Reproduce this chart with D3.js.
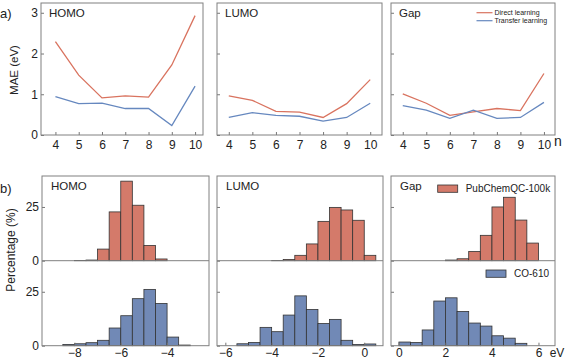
<!DOCTYPE html>
<html>
<head>
<meta charset="utf-8">
<script src="https://cdn.jsdelivr.net/npm/d3@7"></script>
<style>
  body { margin: 0; background: #fff; }
  svg text { font-family: "Liberation Sans", Arial, sans-serif; fill: #222; }
  .tick line { stroke: #777; }
</style>
</head>
<body>
<div id="wrapper"></div>
<script>
// a) MAE vs n
const nValues = [4, 5, 6, 7, 8, 9, 10]
const homoDirect = [2.29, 1.47, 0.91, 0.96, 0.93, 1.72, 2.93]
const homoTransfer = [0.94, 0.77, 0.78, 0.65, 0.65, 0.23, 1.20]
const lumoDirect = [0.96, 0.85, 0.58, 0.56, 0.43, 0.77, 1.36]
const lumoTransfer = [0.43, 0.55, 0.48, 0.46, 0.34, 0.43, 0.78]
const gapDirect = [1.01, 0.78, 0.48, 0.57, 0.65, 0.60, 1.51]
const gapTransfer = [0.72, 0.61, 0.41, 0.61, 0.41, 0.43, 0.80]
const maeTicks = [0, 1, 2, 3]

// b) histograms, bin lower edges (width 0.5) and percentages
const binWidth = 0.5
const homoBinsPub = [-8, -7.5, -7, -6.5, -6, -5.5, -5, -4.5]
const homoPctPub = [0.1, 0.3, 5.4, 22.7, 37.0, 25.8, 7.1, 0.8]
const homoBinsCO = [-8.5, -8, -7.5, -7, -6.5, -6, -5.5, -5, -4.5, -4, -3.5]
const homoPctCO = [0.6, 0.9, 1.4, 2.5, 8.2, 13.9, 21.8, 26.1, 19.6, 4.0, 0.3]
const lumoBinsPub = [-4, -3.5, -3, -2.5, -2, -1.5, -1, -0.5, 0]
const lumoPctPub = [0.1, 0.6, 2.5, 7.8, 18.3, 24.8, 23.6, 18.8, 2.5]
const lumoBinsCO = [-5.5, -5, -4.5, -4, -3.5, -3, -2.5, -2, -1.5, -1, -0.5, 0]
const lumoPctCO = [0.9, 1.5, 8.5, 6.5, 14.2, 23.1, 16.8, 10.3, 12.2, 2.5, 0.6, 0.8]
const gapBinsPub = [2, 2.5, 3, 3.5, 4, 4.5, 5, 5.5]
const gapPctPub = [0.3, 0.9, 4.3, 11.8, 25.0, 29.5, 18.9, 8.2]
const gapBinsCO = [0, 0.5, 1, 1.5, 2, 2.5, 3, 3.5, 4, 4.5, 5]
const gapPctCO = [1.7, 1.5, 7.3, 20.7, 22.2, 15.9, 10.5, 9.1, 4.6, 3.5, 1.1]
const pctTicks = [0, 25]

const redLine = "#d9735f"
const blueLine = "#6688bf"
const redBar = "#d47a6a"
const blueBar = "#7189b6"
const frameColor = "#808080"

const width = 567
const height = 361

const svg = d3.select("#wrapper")
  .append("svg")
    .attr("width", width)
    .attr("height", height)

// ---------- top row ----------
const topY = d3.scaleLinear().domain([0, 3.24]).range([135, 3])

const topPanels = [
  { title: "HOMO", left: 41, right: 203, dom: [3.38, 10.34], direct: homoDirect, transfer: homoTransfer, labels: true },
  { title: "LUMO", left: 217, right: 382, dom: [3.5, 10.5], direct: lumoDirect, transfer: lumoTransfer, labels: false },
  { title: "Gap", left: 391, right: 555, dom: [3.5, 10.47], direct: gapDirect, transfer: gapTransfer, labels: false }
]

topPanels.forEach(p => {
  const xScale = d3.scaleLinear().domain(p.dom).range([p.left, p.right])
  const g = svg.append("g")

  g.append("g")
    .attr("transform", "translate(0,135)")
    .call(d3.axisBottom(xScale).tickValues(nValues).tickFormat(d3.format("d"))
      .tickSizeInner(-3).tickSizeOuter(0).tickPadding(5))
    .call(a => a.select(".domain").remove())
    .selectAll("text").style("font-size", "12px")

  const yAxis = d3.axisLeft(topY).tickValues(maeTicks).tickFormat(d3.format("d"))
    .tickSizeInner(-3).tickSizeOuter(0).tickPadding(3)
  if (!p.labels) yAxis.tickFormat("")
  g.append("g")
    .attr("transform", `translate(${p.left},0)`)
    .call(yAxis)
    .call(a => a.select(".domain").remove())
    .selectAll("text").style("font-size", "12px")

  const line = d3.line()
    .x((d, i) => xScale(nValues[i]))
    .y(d => topY(d))

  g.append("path").datum(p.direct)
    .attr("d", line).attr("fill", "none")
    .attr("stroke", redLine).attr("stroke-width", 1.3)
  g.append("path").datum(p.transfer)
    .attr("d", line).attr("fill", "none")
    .attr("stroke", blueLine).attr("stroke-width", 1.3)

  g.append("rect")
    .attr("x", p.left).attr("y", 3)
    .attr("width", p.right - p.left).attr("height", 132)
    .attr("fill", "none").attr("stroke", frameColor)

  g.append("text")
    .attr("x", p.left + 8).attr("y", 17)
    .style("font-size", "11.5px")
    .text(p.title)
})

// legend top
const lg = svg.append("g")
;[["Direct learning", redLine, 12.7], ["Transfer learning", blueLine, 20.7]].forEach(([t, c, y]) => {
  lg.append("line").attr("x1", 476.5).attr("x2", 492.5).attr("y1", y).attr("y2", y)
    .attr("stroke", c).attr("stroke-width", 1.2)
  lg.append("text").attr("x", 494.5).attr("y", y).attr("dy", "0.35em")
    .style("font-size", "7px").text(t)
})

svg.append("text")
  .attr("x", 554).attr("y", 146)
  .style("font-size", "14px")
  .text("n")

svg.append("text")
  .attr("transform", "translate(18,70) rotate(-90)")
  .attr("text-anchor", "middle")
  .style("font-size", "11.5px")
  .text("MAE (eV)")

svg.append("text")
  .attr("x", 0).attr("y", 18)
  .style("font-size", "13px")
  .text("a)")

// ---------- bottom row ----------
const upperY = d3.scaleLinear().domain([0, 39.4]).range([260.7, 176])
const lowerY = d3.scaleLinear().domain([0, 39.4]).range([345.7, 260.7])

const bottomPanels = [
  { title: "HOMO", left: 42, right: 209, dom: [-9.4, -2.19], ticks: [-8, -6, -4],
    pubBins: homoBinsPub, pubPct: homoPctPub, coBins: homoBinsCO, coPct: homoPctCO, labels: true },
  { title: "LUMO", left: 217, right: 383, dom: [-6.36, 0.81], ticks: [-6, -4, -2, 0],
    pubBins: lumoBinsPub, pubPct: lumoPctPub, coBins: lumoBinsCO, coPct: lumoPctCO, labels: false },
  { title: "Gap", left: 391, right: 555, dom: [-0.34, 6.71], ticks: [0, 2, 4, 6],
    pubBins: gapBinsPub, pubPct: gapPctPub, coBins: gapBinsCO, coPct: gapPctCO, labels: false }
]

bottomPanels.forEach(p => {
  const xScale = d3.scaleLinear().domain(p.dom).range([p.left, p.right])
  const g = svg.append("g")

  const drawBars = (bins, pct, yScale, fill) => {
    g.append("g").selectAll("rect")
      .data(bins.map((b, i) => [b, pct[i]]))
      .enter().append("rect")
        .attr("x", d => xScale(d[0]))
        .attr("width", d => xScale(d[0] + binWidth) - xScale(d[0]))
        .attr("y", d => yScale(d[1]))
        .attr("height", d => yScale(0) - yScale(d[1]))
        .attr("fill", fill)
        .attr("stroke", "#333")
        .attr("stroke-width", 0.8)
  }
  drawBars(p.pubBins, p.pubPct, upperY, redBar)
  drawBars(p.coBins, p.coPct, lowerY, blueBar)

  g.append("g")
    .attr("transform", "translate(0,345.7)")
    .call(d3.axisBottom(xScale).tickValues(p.ticks).tickFormat(d3.format("d"))
      .tickSizeInner(-3).tickSizeOuter(0).tickPadding(3))
    .call(a => a.select(".domain").remove())
    .selectAll("text").style("font-size", "12px")

  ;[upperY, lowerY].forEach(yScale => {
    const yAxis = d3.axisLeft(yScale).tickValues(pctTicks).tickSizeInner(-3).tickSizeOuter(0).tickPadding(3)
    if (!p.labels) yAxis.tickFormat("")
    g.append("g")
      .attr("transform", `translate(${p.left},0)`)
      .call(yAxis)
      .call(a => a.select(".domain").remove())
      .selectAll("text").style("font-size", "12px")
  })

  g.append("line")
    .attr("x1", p.left).attr("x2", p.right)
    .attr("y1", 260.7).attr("y2", 260.7)
    .attr("stroke", frameColor)

  g.append("rect")
    .attr("x", p.left).attr("y", 176)
    .attr("width", p.right - p.left).attr("height", 169.7)
    .attr("fill", "none").attr("stroke", frameColor)

  g.append("text")
    .attr("x", p.left + 9).attr("y", 190)
    .style("font-size", "11.5px")
    .text(p.title)
})

// bottom legends
const bl = svg.append("g")
;[["PubChemQC-100k", redBar, 437.7, 185], ["CO-610", blueBar, 486, 270]].forEach(([t, c, x, y]) => {
  bl.append("rect").attr("x", x).attr("y", y).attr("width", 20).attr("height", 7.3)
    .attr("fill", c).attr("stroke", "#333").attr("stroke-width", 0.8)
  bl.append("text").attr("x", x + 28).attr("y", y + 3.7).attr("dy", "0.35em")
    .style("font-size", "10px").text(t)
})

svg.append("text")
  .attr("x", 557).attr("y", 357)
  .attr("text-anchor", "middle")
  .style("font-size", "12px")
  .text("eV")

svg.append("text")
  .attr("transform", "translate(15,250) rotate(-90)")
  .attr("text-anchor", "middle")
  .style("font-size", "12px")
  .text("Percentage (%)")

svg.append("text")
  .attr("x", 0).attr("y", 193)
  .style("font-size", "13px")
  .text("b)")
</script>
</body>
</html>
